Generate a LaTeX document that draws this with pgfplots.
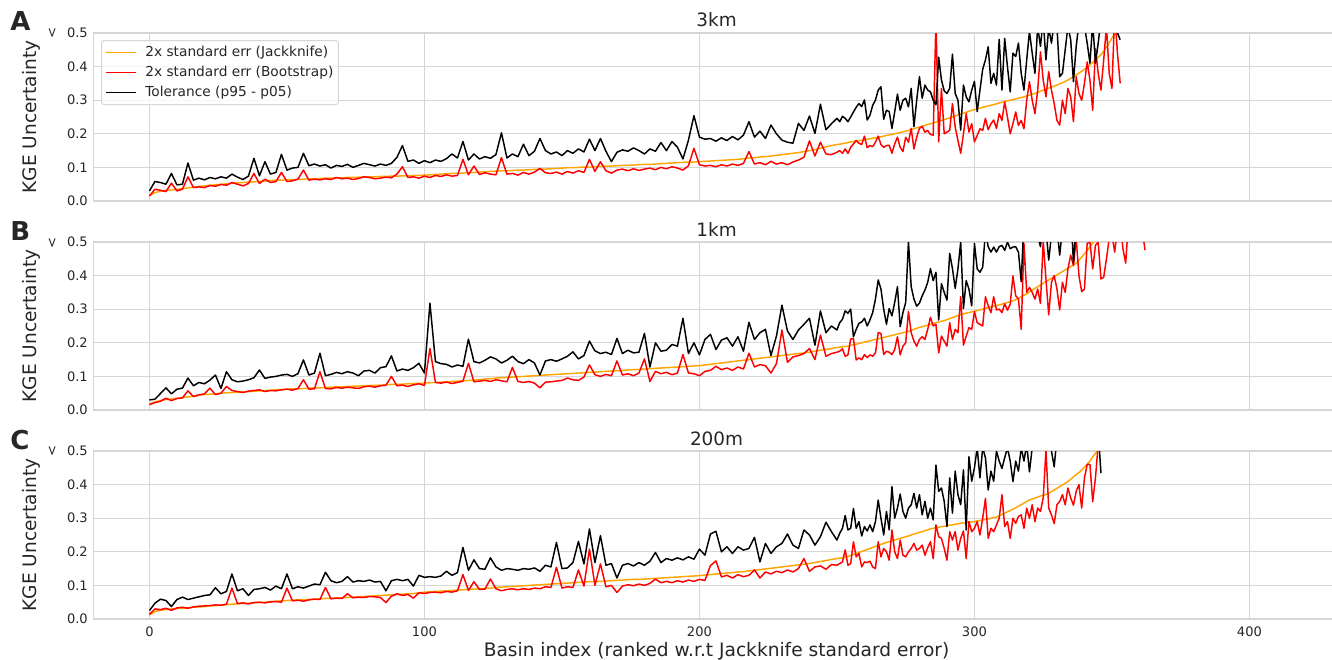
\documentclass[border=0pt]{standalone}
\usepackage{fontspec}
\setmainfont{DejaVu Sans}
\usepackage{pgfplots}
\usepackage{pgfplotstable}
\pgfplotsset{compat=1.18}

\definecolor{gridc}{RGB}{214,214,214}
\definecolor{txt}{RGB}{38,38,38}
\definecolor{jkc}{RGB}{255,165,0}
\definecolor{bsc}{RGB}{255,0,0}

% columns: basin index, jackknife 2xSE, bootstrap 2xSE, tolerance (p95 - p05)
\pgfplotstableread{
x jk bs tl
0 .016 .015 .030
2 .025 .035 .058
4 .029 .032 .055
6 .031 .028 .050
8 .033 .053 .082
10 .035 .030 .048
12 .037 .035 .050
14 .039 .072 .113
16 .041 .040 .062
18 .043 .042 .068
20 .045 .040 .063
22 .047 .046 .070
24 .048 .044 .066
26 .050 .049 .072
28 .051 .047 .068
30 .053 .055 .080
32 .054 .050 .071
34 .055 .045 .064
36 .056 .052 .074
38 .057 .082 .127
40 .058 .052 .075
42 .059 .065 .117
44 .061 .055 .080
46 .062 .058 .085
48 .062 .085 .139
50 .063 .058 .092
52 .064 .060 .098
54 .064 .065 .100
56 .065 .092 .142
58 .066 .062 .105
60 .067 .065 .110
62 .067 .063 .104
64 .068 .066 .108
66 .068 .064 .098
68 .069 .070 .106
70 .069 .066 .103
72 .070 .068 .109
74 .070 .064 .100
76 .071 .067 .106
78 .071 .072 .112
80 .072 .070 .108
82 .072 .066 .104
84 .073 .068 .110
86 .073 .071 .106
88 .074 .069 .112
90 .074 .080 .130
92 .075 .102 .165
94 .075 .070 .118
96 .076 .072 .122
98 .076 .068 .112
100 .077 .074 .120
102 .078 .070 .114
104 .079 .076 .122
106 .080 .073 .118
108 .081 .078 .126
110 .082 .074 .140
112 .082 .076 .128
114 .083 .124 .177
116 .084 .078 .122
118 .085 .104 .140
120 .086 .079 .125
122 .087 .084 .132
124 .088 .080 .127
126 .089 .078 .138
128 .090 .129 .203
130 .090 .080 .128
132 .091 .082 .140
134 .092 .077 .132
136 .092 .085 .169
138 .093 .080 .135
140 .094 .086 .148
142 .095 .097 .186
144 .095 .084 .150
146 .096 .082 .140
148 .097 .086 .146
150 .098 .080 .135
152 .099 .088 .150
154 .099 .083 .142
156 .100 .090 .155
158 .101 .085 .146
160 .101 .124 .184
162 .102 .088 .150
164 .103 .117 .186
166 .104 .090 .148
168 .104 .083 .117
170 .105 .092 .145
172 .106 .095 .152
174 .106 .090 .148
176 .107 .096 .158
178 .108 .091 .150
180 .109 .095 .140
182 .109 .098 .155
184 .110 .093 .148
186 .111 .100 .174
188 .112 .096 .150
190 .113 .102 .177
192 .114 .098 .160
194 .115 .092 .125
196 .116 .105 .181
198 .116 .157 .254
200 .117 .108 .190
202 .118 .104 .184
204 .119 .106 .186
206 .120 .102 .178
208 .121 .108 .188
210 .122 .104 .180
212 .123 .110 .192
214 .124 .106 .182
216 .126 .112 .196
218 .128 .147 .236
220 .129 .110 .190
222 .131 .114 .208
224 .132 .108 .186
226 .134 .118 .226
228 .136 .110 .200
230 .138 .114 .181
232 .140 .108 .175
234 .142 .116 .172
236 .144 .122 .231
238 .147 .130 .210
240 .150 .179 .253
242 .153 .134 .201
244 .157 .175 .288
246 .161 .140 .212
248 .165 .138 .230
250 .168 .145 .246
251 .169 .150 .236
252 .171 .142 .252
253 .172 .155 .246
254 .174 .142 .236
255 .176 .160 .250
256 .177 .170 .265
257 .179 .180 .279
258 .180 .172 .290
259 .181 .168 .281
260 .182 .193 .301
261 .184 .159 .241
262 .185 .165 .255
263 .187 .162 .285
264 .188 .175 .300
265 .190 .193 .330
266 .191 .168 .340
267 .193 .160 .243
268 .195 .165 .270
269 .197 .166 .266
270 .198 .142 .216
271 .200 .170 .265
272 .202 .190 .318
273 .204 .160 .270
274 .206 .147 .300
275 .208 .190 .306
276 .210 .175 .280
277 .213 .216 .335
278 .215 .155 .221
279 .218 .190 .300
280 .220 .216 .370
281 .223 .222 .306
282 .225 .205 .345
283 .228 .210 .330
284 .230 .198 .325
285 .232 .196 .300
286 .235 .540 .286
287 .237 .176 .428
288 .240 .335 .360
289 .242 .200 .328
290 .245 .205 .320
291 .247 .210 .335
292 .250 .290 .437
293 .253 .220 .320
294 .256 .180 .300
295 .259 .142 .211
296 .261 .200 .345
297 .264 .260 .310
298 .267 .205 .295
299 .270 .230 .330
300 .272 .176 .356
301 .274 .195 .266
302 .276 .215 .330
303 .279 .210 .392
304 .281 .246 .420
305 .283 .212 .459
306 .285 .230 .350
307 .287 .241 .380
308 .289 .216 .345
309 .292 .260 .481
310 .294 .240 .330
311 .296 .295 .484
312 .298 .250 .400
313 .300 .200 .325
314 .302 .230 .440
315 .304 .265 .430
316 .306 .225 .470
317 .308 .240 .380
318 .310 .215 .330
319 .313 .300 .420
320 .315 .355 .505
321 .318 .300 .440
322 .320 .260 .380
323 .323 .330 .520
324 .327 .444 .460
325 .330 .360 .540
326 .333 .310 .420
327 .336 .385 .515
328 .339 .330 .470
329 .342 .290 .530
330 .345 .240 .520
331 .349 .226 .370
332 .352 .300 .380
333 .356 .260 .450
334 .360 .335 .520
335 .365 .310 .480
336 .370 .236 .355
337 .375 .370 .460
338 .381 .320 .530
339 .386 .300 .510
340 .392 .350 .520
341 .398 .414 .470
342 .405 .360 .410
343 .412 .270 .530
344 .420 .454 .410
345 .428 .380 .470
346 .435 .330 .540
347 .446 .420 .560
348 .458 .520 .600
349 .471 .380 .550
350 .485 .335 .580
351 .500 .560 .520
352 .520 .440 .500
353 .550 .350 .480
}\tabA

\pgfplotstableread{
x jk bs tl
0 .018 .016 .030
2 .024 .022 .032
4 .028 .026 .049
6 .031 .035 .066
8 .033 .028 .048
10 .035 .034 .062
12 .037 .036 .065
14 .039 .057 .095
16 .041 .040 .072
18 .044 .045 .082
20 .046 .048 .078
22 .047 .065 .089
24 .048 .046 .104
26 .050 .050 .064
28 .051 .070 .114
30 .052 .058 .090
32 .053 .055 .084
34 .054 .052 .086
36 .055 .056 .090
38 .056 .058 .096
40 .057 .060 .119
42 .058 .055 .094
44 .059 .058 .098
46 .060 .057 .100
48 .061 .060 .104
50 .062 .062 .106
52 .063 .059 .100
54 .063 .064 .108
56 .064 .090 .149
58 .065 .062 .104
60 .066 .063 .110
62 .066 .114 .169
64 .067 .064 .102
66 .068 .063 .106
68 .069 .067 .112
70 .069 .065 .108
72 .070 .068 .114
74 .071 .066 .110
76 .071 .064 .102
78 .072 .069 .116
80 .073 .071 .118
82 .073 .068 .110
84 .074 .072 .126
86 .075 .074 .129
88 .076 .100 .161
90 .076 .072 .116
92 .077 .074 .122
94 .078 .070 .118
96 .079 .075 .126
98 .079 .078 .139
100 .080 .073 .110
102 .081 .183 .318
104 .082 .082 .144
106 .083 .080 .138
108 .084 .083 .136
110 .085 .079 .128
112 .086 .082 .134
114 .087 .086 .130
116 .088 .139 .211
118 .089 .084 .144
120 .090 .086 .140
122 .092 .088 .148
124 .093 .085 .158
126 .095 .090 .152
128 .096 .087 .140
130 .097 .084 .148
132 .098 .127 .160
134 .099 .085 .144
136 .100 .082 .138
138 .101 .085 .150
140 .102 .080 .140
142 .103 .066 .104
144 .104 .083 .146
146 .105 .084 .150
148 .106 .086 .145
150 .107 .088 .152
152 .108 .095 .160
154 .109 .090 .173
156 .110 .088 .152
158 .111 .098 .162
160 .112 .134 .205
162 .113 .105 .176
164 .114 .100 .168
166 .115 .106 .172
168 .116 .102 .165
170 .117 .146 .213
172 .118 .104 .168
174 .119 .108 .178
176 .120 .102 .170
178 .121 .110 .172
180 .122 .152 .228
182 .123 .085 .128
184 .124 .115 .200
186 .125 .108 .175
188 .126 .112 .178
190 .127 .105 .195
192 .128 .110 .190
194 .129 .165 .273
196 .130 .110 .168
198 .131 .108 .200
200 .132 .102 .164
202 .134 .115 .210
204 .136 .118 .225
206 .138 .130 .180
208 .140 .120 .208
210 .142 .125 .215
212 .144 .118 .190
214 .146 .128 .218
216 .148 .122 .175
218 .150 .169 .261
220 .152 .128 .210
222 .154 .135 .230
224 .156 .132 .240
226 .158 .110 .162
228 .160 .138 .220
230 .162 .238 .312
232 .164 .142 .235
234 .166 .158 .210
236 .168 .162 .238
238 .170 .168 .255
240 .172 .183 .273
242 .175 .150 .193
244 .178 .223 .295
246 .180 .160 .230
248 .183 .168 .250
250 .186 .172 .238
251 .187 .175 .260
252 .188 .182 .270
253 .189 .160 .295
254 .190 .164 .288
255 .192 .211 .300
256 .194 .213 .218
257 .196 .149 .240
258 .198 .155 .258
259 .200 .150 .262
260 .202 .165 .273
261 .204 .156 .250
262 .206 .164 .268
263 .208 .160 .290
264 .210 .170 .330
265 .212 .230 .387
266 .214 .228 .360
267 .216 .165 .300
268 .218 .175 .255
269 .220 .172 .302
270 .222 .165 .280
271 .224 .180 .320
272 .226 .218 .367
273 .228 .164 .248
274 .230 .190 .290
275 .232 .200 .320
276 .234 .293 .502
277 .237 .230 .367
278 .240 .205 .330
279 .243 .190 .309
280 .246 .210 .318
281 .248 .218 .340
282 .250 .210 .357
283 .252 .240 .380
284 .255 .276 .421
285 .257 .250 .385
286 .260 .255 .410
287 .262 .170 .268
288 .264 .220 .376
289 .266 .205 .350
290 .269 .190 .327
291 .272 .260 .466
292 .275 .210 .421
293 .278 .240 .362
294 .281 .230 .420
295 .284 .337 .500
296 .286 .193 .302
297 .288 .220 .385
298 .290 .245 .360
299 .292 .240 .310
300 .294 .293 .496
301 .296 .260 .420
302 .298 .255 .410
303 .300 .250 .425
304 .303 .337 .530
305 .305 .310 .486
306 .307 .290 .470
307 .309 .337 .485
308 .311 .298 .470
309 .313 .300 .486
310 .315 .290 .490
311 .318 .316 .475
312 .320 .297 .500
313 .322 .315 .480
314 .325 .399 .485
315 .328 .340 .486
316 .332 .330 .470
317 .337 .240 .382
318 .342 .496 .560
319 .345 .350 .540
320 .352 .365 .560
321 .357 .350 .540
322 .362 .330 .580
323 .367 .360 .520
324 .372 .317 .486
325 .377 .503 .560
326 .382 .390 .540
327 .387 .283 .446
328 .392 .380 .520
329 .397 .400 .560
330 .402 .360 .540
331 .407 .298 .461
332 .412 .380 .540
333 .417 .350 .580
334 .422 .420 .560
335 .427 .461 .600
336 .432 .430 .437
337 .437 .510 .560
338 .446 .400 .580
339 .455 .352 .560
340 .465 .360 .600
341 .475 .496 .620
342 .486 .500 .580
343 .496 .420 .640
344 .506 .490 .600
345 .520 .500 .620
346 nan .390 nan
347 nan .395 nan
348 nan .450 nan
349 nan .510 nan
350 nan .520 nan
351 nan .470 nan
352 nan .540 nan
353 nan .560 nan
354 nan .480 nan
355 nan .437 nan
356 nan .560 nan
357 nan .580 nan
358 nan .540 nan
359 nan .560 nan
360 nan .520 nan
361 nan .540 nan
362 nan .476 nan
}\tabB

\pgfplotstableread{
x jk bs tl
0 .012 .014 .025
2 .022 .030 .047
4 .026 .028 .059
6 .028 .032 .055
8 .030 .026 .037
10 .031 .033 .058
12 .032 .035 .065
14 .033 .032 .058
16 .035 .036 .062
18 .036 .038 .066
20 .037 .039 .070
22 .039 .040 .072
24 .040 .042 .093
26 .041 .041 .075
28 .043 .044 .082
30 .044 .092 .134
32 .045 .046 .084
34 .046 .048 .090
36 .047 .045 .070
38 .048 .049 .088
40 .049 .050 .090
42 .050 .048 .094
44 .052 .051 .086
46 .053 .052 .098
48 .054 .050 .090
50 .055 .092 .134
52 .056 .054 .090
54 .057 .056 .096
56 .058 .053 .092
58 .058 .057 .098
60 .059 .059 .104
62 .060 .058 .102
64 .061 .094 .139
66 .062 .060 .114
68 .063 .062 .108
70 .063 .061 .112
72 .064 .075 .126
74 .065 .063 .110
76 .066 .065 .114
78 .067 .064 .112
80 .068 .067 .116
82 .069 .066 .110
84 .070 .064 .112
86 .071 .049 .084
88 .072 .068 .114
90 .073 .075 .118
92 .074 .070 .114
94 .075 .073 .118
96 .076 .062 .098
98 .078 .078 .130
100 .080 .076 .124
102 .081 .079 .126
104 .082 .080 .124
106 .083 .078 .128
108 .084 .082 .142
110 .085 .080 .130
112 .086 .084 .138
114 .087 .132 .213
116 .088 .085 .145
118 .089 .111 .176
120 .090 .088 .150
122 .091 .089 .148
124 .092 .119 .182
126 .094 .090 .155
128 .095 .084 .145
130 .096 .088 .150
132 .097 .090 .148
134 .098 .087 .145
136 .099 .090 .150
138 .100 .088 .148
140 .101 .092 .152
142 .102 .090 .142
144 .103 .096 .160
146 .104 .094 .155
148 .105 .154 .228
150 .106 .092 .150
152 .107 .096 .152
154 .108 .094 .168
156 .109 .146 .231
158 .110 .098 .164
160 .111 .208 .268
162 .112 .100 .168
164 .112 .164 .248
166 .113 .096 .160
168 .114 .100 .165
170 .115 .079 .122
172 .116 .098 .160
174 .117 .102 .165
176 .118 .099 .158
178 .118 .104 .168
180 .119 .100 .160
182 .120 .106 .172
184 .121 .119 .198
186 .122 .108 .168
188 .123 .112 .180
190 .124 .108 .175
192 .125 .114 .182
194 .126 .110 .176
196 .127 .116 .185
198 .128 .112 .178
200 .129 .118 .208
202 .131 .115 .190
204 .132 .159 .253
206 .134 .173 .261
208 .135 .125 .200
210 .137 .130 .215
212 .138 .122 .195
214 .140 .132 .215
216 .141 .126 .205
218 .143 .130 .210
220 .145 .146 .243
222 .147 .122 .170
224 .149 .140 .225
226 .151 .134 .195
228 .153 .142 .215
230 .155 .138 .225
232 .157 .146 .253
234 .159 .140 .220
236 .161 .150 .210
238 .163 .180 .265
240 .165 .142 .250
242 .168 .155 .220
244 .171 .158 .245
246 .174 .148 .288
248 .177 .162 .260
250 .180 .160 .235
251 .181 .165 .255
252 .182 .170 .270
253 .184 .206 .308
254 .186 .160 .265
255 .189 .165 .270
256 .192 .230 .329
257 .195 .185 .270
258 .198 .195 .290
259 .201 .155 .247
260 .204 .170 .275
261 .207 .168 .262
262 .210 .172 .280
263 .213 .155 .260
264 .216 .150 .290
265 .219 .230 .354
266 .222 .185 .300
267 .225 .210 .250
268 .228 .200 .320
269 .230 .175 .265
270 .233 .265 .394
271 .235 .200 .300
272 .238 .180 .330
273 .240 .235 .372
274 .242 .190 .320
275 .245 .185 .300
276 .247 .200 .330
277 .250 .210 .340
278 .253 .225 .374
279 .255 .205 .330
280 .258 .210 .370
281 .260 .220 .310
282 .263 .190 .350
283 .265 .212 .300
284 .268 .230 .330
285 .270 .180 .295
286 .272 .280 .458
287 .273 .245 .380
288 .275 .240 .390
289 .276 .210 .350
290 .278 .175 .275
291 .279 .260 .420
292 .280 .235 .315
293 .282 .260 .440
294 .283 .205 .370
295 .285 .240 .340
296 .286 .262 .444
297 .287 .180 .265
298 .288 .290 .483
299 .289 .260 .410
300 .290 .270 .450
301 .292 .290 .510
302 .293 .250 .420
303 .295 .300 .510
304 .296 .359 .480
305 .298 .240 .384
306 .300 .270 .440
307 .302 .260 .410
308 .303 .280 .500
309 .307 .300 .470
310 .311 .370 .448
311 .315 .275 .480
312 .319 .290 .510
313 .323 .240 .470
314 .327 .300 .409
315 .331 .285 .470
316 .336 .305 .440
317 .340 .310 .510
318 .345 .270 .470
319 .350 .330 .520
320 .354 .300 .438
321 .357 .340 .510
322 .360 .290 .540
323 .363 .330 .520
324 .366 .320 .560
325 .368 .360 .520
326 .371 .503 .540
327 .374 .330 .560
328 .379 .310 .500
329 .384 .284 .453
330 .389 .340 .540
331 .394 .350 .560
332 .399 .370 .520
333 .404 .340 .580
334 .409 .390 .540
335 .416 .360 .560
336 .423 .339 .600
337 .430 .380 .540
338 .436 .400 .560
339 .443 .330 .600
340 .452 .420 .560
341 .461 .460 .580
342 .470 .460 .620
343 .482 .349 .580
344 .493 .420 .600
345 .505 .520 .560
346 .520 .540 .434
347 nan .560 nan
}\tabC

\pgfplotsset{
  panel/.style={
    scale only axis, width=932.25pt, height=126pt,
    anchor=south west,
    xmin=-20.5, xmax=431.5, ymin=0, ymax=0.5,
    axis line style={gridc, line width=0.8pt},
    grid=major, major grid style={gridc, line width=0.8pt},
    xtick={0,100,200,300,400},
    ytick={0,0.1,0.2,0.3,0.4,0.5},
    major tick length=0pt, tick style={draw=none},
    /pgf/number format/assume math mode=true,
    ticklabel style={font=\fontsize{9.8}{11}\selectfont, text=txt, inner sep=0pt},
    yticklabel style={xshift=-3.75pt, /pgf/number format/fixed,
      /pgf/number format/fixed zerofill, /pgf/number format/precision=1},
    xticklabel style={yshift=-5.8pt},
    unbounded coords=discard,
  },
}

\begin{document}
\begin{tikzpicture}
\path[use as bounding box] (0,0) rectangle (999pt,-495pt);

% panel A: 3km
\begin{axis}[panel, at={(69.8pt,-150.75pt)}, xticklabels={},
  legend cell align=left,
  legend style={at={(0.0064,0.958)}, anchor=north west,
    draw=gridc, line width=0.8pt, rounded corners=2pt, fill=white,
    fill opacity=0.8, text opacity=1, font=\fontsize{10.3}{12}\selectfont,
    text=txt, inner xsep=3pt, inner ysep=3.5pt, row sep=4pt,
    nodes={inner sep=0.75pt, text height=7.5pt, text depth=2pt}},
  legend image code/.code={\draw[#1] (0pt,0pt) -- (22pt,0pt); \path (0pt,0pt) (28pt,0pt);},
]
\addplot[draw=jkc, line width=1.1pt, line join=round] table[x=x, y=jk] {\tabA};
\addlegendentry{2x standard err (Jackknife)}
\addplot[draw=bsc, line width=1.1pt, line join=round] table[x=x, y=bs] {\tabA};
\addlegendentry{2x standard err (Bootstrap)}
\addplot[draw=black, line width=1.1pt, line join=round] table[x=x, y=tl] {\tabA};
\addlegendentry{Tolerance (p95 - p05)}
\end{axis}

% panel B: 1km
\begin{axis}[panel, at={(69.8pt,-307.5pt)}, xticklabels={}]
\addplot[draw=jkc, line width=1.1pt, line join=round] table[x=x, y=jk] {\tabB};
\addplot[draw=bsc, line width=1.1pt, line join=round] table[x=x, y=bs] {\tabB};
\addplot[draw=black, line width=1.1pt, line join=round] table[x=x, y=tl] {\tabB};
\end{axis}

% panel C: 200m
\begin{axis}[panel, at={(69.8pt,-464.25pt)}]
\addplot[draw=jkc, line width=1.1pt, line join=round] table[x=x, y=jk] {\tabC};
\addplot[draw=bsc, line width=1.1pt, line join=round] table[x=x, y=bs] {\tabC};
\addplot[draw=black, line width=1.1pt, line join=round] table[x=x, y=tl] {\tabC};
\end{axis}

% titles
\begin{scope}[every node/.style={text=txt, font=\fontsize{13.8}{16}\selectfont, anchor=base}]
\node at (537.4pt,-20.25pt) {3km};
\node at (537.4pt,-177pt) {1km};
\node at (537.4pt,-333.75pt) {200m};
\end{scope}

% y labels
\begin{scope}[every node/.style={text=txt, font=\fontsize{13.95}{16}\selectfont, anchor=base, rotate=90}]
\node at (27.5pt,-87.75pt) {KGE Uncertainty};
\node at (27.5pt,-244.5pt) {KGE Uncertainty};
\node at (27.5pt,-401.25pt) {KGE Uncertainty};
\end{scope}

% x label
\node[text=txt, font=\fontsize{13.95}{16}\selectfont, anchor=base] at (537.4pt,-492.4pt)
  {Basin index (ranked w.r.t Jackknife standard error)};

% panel letters
\begin{scope}[every node/.style={text=txt, font=\bfseries\fontsize{19.5}{22}\selectfont, anchor=base west, inner sep=0pt}]
\node at (7.5pt,-23.25pt) {A};
\node at (7.5pt,-180pt) {B};
\node at (7.5pt,-336.75pt) {C};
\end{scope}

% upper-bound markers beside the 0.5 ticks
\begin{scope}[every node/.style={text=txt, font=\fontsize{9.8}{11}\selectfont, rotate=-90, inner sep=0pt}]
\node at (39pt,-25.1pt) {>};
\node at (39pt,-181.9pt) {>};
\node at (39pt,-338.6pt) {>};
\end{scope}
\end{tikzpicture}
\end{document}
